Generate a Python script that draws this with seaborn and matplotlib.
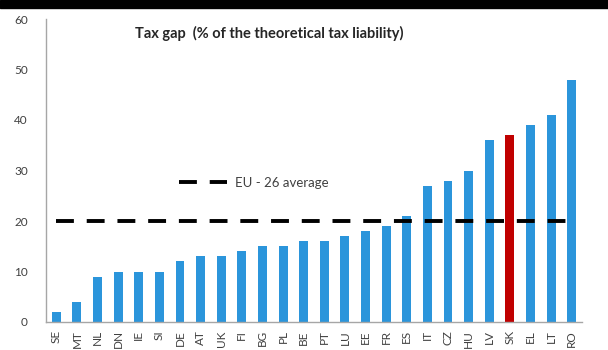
import matplotlib
matplotlib.use("Agg")
import matplotlib.pyplot as plt
from matplotlib.lines import Line2D
from matplotlib.patches import Rectangle
import seaborn as sns
import pandas as pd

# Tax gap by member state, % of the theoretical tax liability
countries = ["SE", "MT", "NL", "DN", "IE", "SI", "DE", "AT", "UK", "FI", "BG", "PL", "BE",
             "PT", "LU", "EE", "FR", "ES", "IT", "CZ", "HU", "LV", "SK", "EL", "LT", "RO"]
tax_gap = [2, 4, 9, 10, 10, 10, 12, 13, 13, 14, 15, 15, 16,
           16, 17, 18, 19, 21, 27, 28, 30, 36, 37, 39, 41, 48]
eu_average = 20
highlight = "SK"

y_ticks = [0, 10, 20, 30, 40, 50, 60]

BLUE = "#2B95DB"
RED = "#C00000"
GREY_TXT = "#404040"

sns.set_theme(style="white")
plt.rcParams["font.family"] = ["Lato", "DejaVu Sans"]

df = pd.DataFrame({"country": countries, "gap": tax_gap})
palette = {c: (RED if c == highlight else BLUE) for c in countries}

fig = plt.figure(figsize=(6.08, 3.5), dpi=100)
ax = fig.add_axes([46 / 608, 28 / 350, 536 / 608, 303 / 350])

sns.barplot(data=df, x="country", y="gap", hue="country", palette=palette,
            legend=False, width=0.43, saturation=1, ax=ax, linewidth=0)

avg_df = pd.DataFrame({"country": countries, "avg": [eu_average] * len(countries)})
sns.lineplot(data=avg_df, x="country", y="avg", ax=ax, color="black",
             linewidth=2.8, sort=False)
avg_line = ax.get_lines()[-1]
avg_line.set_dashes((4.6, 3.3))
avg_line.set_dash_capstyle("butt")

ax.set_xlim(-0.5, len(countries) - 0.5)
ax.set_ylim(0, 60)
ax.set_yticks(y_ticks)
ax.set_yticklabels([str(t) for t in y_ticks])
ax.set_xlabel("")
ax.set_ylabel("")
ax.tick_params(axis="y", length=0, pad=13, labelsize=8.5, labelcolor=GREY_TXT)
ax.tick_params(axis="x", length=0, pad=6, labelsize=8.5, labelcolor=GREY_TXT,
               rotation=90)

for side in ["top", "right"]:
    ax.spines[side].set_visible(False)
for side in ["left", "bottom"]:
    ax.spines[side].set_color("#A6A6A6")
    ax.spines[side].set_linewidth(1.0)

handle = Line2D([], [], color="black", linewidth=2.8, dashes=(4.6, 3.3),
                dash_capstyle="butt")
fig.legend([handle], ["EU - 26 average"], loc="center left",
           bbox_to_anchor=(172 / 608, 1 - 183 / 350), frameon=False,
           borderpad=0, handlelength=3.7, handletextpad=0.6,
           prop={"size": 9.5}, labelcolor=GREY_TXT)

fig.text(269 / 608, 1 - 33 / 350, "Tax gap  (% of the theoretical tax liability)",
         ha="center", va="center", fontsize=10.5, fontweight="bold", color="#262626")

# dark header strip along the top edge
fig.patches.append(Rectangle((0, 1 - 7.5 / 350), 1, 7.5 / 350,
                             transform=fig.transFigure, color="black", zorder=10))

fig.savefig("out.png", dpi=100)
